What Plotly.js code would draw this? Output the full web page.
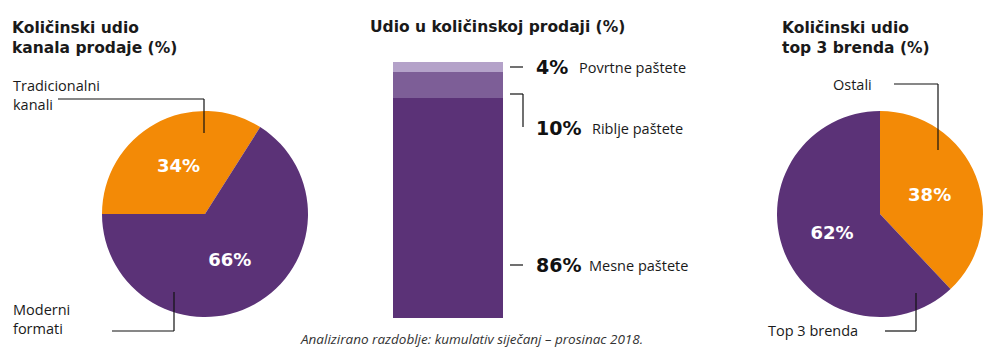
<!DOCTYPE html>
<html><head><meta charset="utf-8">
<script src="https://cdn.plot.ly/plotly-3.0.1.min.js"></script>
<style>html,body{margin:0;padding:0;background:#fff}#chart{width:993px;height:364px}</style>
</head><body><div id="chart"></div>
<script>
// ---- data ----
const channelLabels = ["Tradicionalni kanali", "Moderni formati"];
const channelValues = [34, 66];
const segmentLabels = ["Mesne paštete", "Riblje paštete", "Povrtne paštete"];
const segmentValues = [86, 10, 4];
const brandLabels = ["Ostali", "Top 3 brenda"];
const brandValues = [38, 62];

const W = 993, H = 364;
const px = x => x / W, py = y => 1 - y / H;
const ORANGE = "#f38a06", PURPLE = "#5b3277";
const segColors = ["#5b3277", "#7d5e97", "#b4a2c9"];
const FONT = "'Open Sans', 'DejaVu Sans', sans-serif";
const BOLDFONT = "'DejaVu Sans', sans-serif";

const data = [
  {type: "pie", labels: channelLabels, values: channelValues, sort: false,
   direction: "clockwise", rotation: 270,
   marker: {colors: [ORANGE, PURPLE]},
   domain: {x: [px(102), px(308)], y: [py(317), py(111)]},
   texttemplate: "%{value}%", textposition: "inside", insidetextorientation: "horizontal",
   textfont: {color: "#fff", size: 18, family: BOLDFONT, weight: 700},
   hoverinfo: "skip", showlegend: false},
  {type: "pie", labels: brandLabels, values: brandValues, sort: false,
   direction: "clockwise", rotation: 0,
   marker: {colors: [ORANGE, PURPLE]},
   domain: {x: [px(777), px(983)], y: [py(317), py(111)]},
   texttemplate: "%{value}%", textposition: "inside", insidetextorientation: "horizontal",
   textfont: {color: "#fff", size: 18, family: BOLDFONT, weight: 700},
   hoverinfo: "skip", showlegend: false}
];
segmentLabels.forEach((lab, i) => {
  data.push({type: "bar", x: [0], y: [segmentValues[i]], name: lab,
    marker: {color: segColors[i], line: {width: 0}}, width: 1,
    xaxis: "x", yaxis: "y", hoverinfo: "skip", showlegend: false});
});

// label positions for stacked segments (pixel y of label)
const segLabelY = [265, 128, 67];
const annotations = [];
const shapes = [];
function txt(x, y, text, opts = {}) {
  annotations.push(Object.assign({xref: "paper", yref: "paper", x: px(x), y: py(y),
    text: text, showarrow: false, xanchor: "left", yanchor: "middle", align: "left"}, opts));
}
function line(pts) {
  for (let i = 0; i < pts.length - 1; i++) {
    shapes.push({type: "line", xref: "paper", yref: "paper",
      x0: px(pts[i][0]), y0: py(pts[i][1]), x1: px(pts[i+1][0]), y1: py(pts[i+1][1]),
      line: {color: "#111", width: 1.2}});
  }
}
const titleFont = {family: BOLDFONT, size: 15.5, color: "#1a1a1a", weight: 700};
txt(10, 38, "Količinski udio<br>kanala prodaje (%)", {font: titleFont});
txt(497, 27, "Udio u količinskoj prodaji (%)", {font: titleFont, xanchor: "center"});
txt(780, 38, "Količinski udio<br>top 3 brenda (%)", {font: titleFont});

const lblFont = {family: FONT, size: 14.5, color: "#1a1a1a"};
txt(11, 95, "Tradicionalni<br>kanali", {font: lblFont});
line([[58, 99], [204, 99], [204, 133]]);
txt(11, 319, "Moderni<br>formati", {font: lblFont});
line([[112, 331], [174, 331], [174, 292]]);
txt(874, 84, "Ostali", {font: lblFont, xanchor: "right"});
line([[894, 84], [938, 84], [938, 150]]);
txt(766, 330, "Top 3 brenda", {font: lblFont});
line([[885, 331], [916, 331], [916, 293]]);

// bar labels
const pctFont = {family: BOLDFONT, size: 19, color: "#111", weight: 700};
const nameX = [587, 590, 577];
for (let i = 0; i < segmentLabels.length; i++) {
  txt(534, segLabelY[i], segmentValues[i] + "%", {font: pctFont});
  txt(nameX[i], segLabelY[i], segmentLabels[i], {font: lblFont});
}
line([[510, 67], [523, 67]]);
line([[510, 94], [523, 94], [523, 127]]);
line([[510, 265], [523, 265]]);

txt(471, 339, "Analizirano razdoblje: kumulativ siječanj – prosinac 2018.",
  {font: {family: FONT, size: 13.5, color: "#333", style: "italic"}, xanchor: "center"});

const layout = {
  width: W, height: H, margin: {l: 0, r: 0, t: 0, b: 0},
  paper_bgcolor: "#fff", plot_bgcolor: "#fff", barmode: "stack", bargap: 0,
  xaxis: {domain: [px(393), px(503)], range: [-0.5, 0.5], visible: false, fixedrange: true},
  yaxis: {domain: [py(318), py(62)], range: [0, 100], visible: false, fixedrange: true},
  annotations: annotations, shapes: shapes, showlegend: false
};
Plotly.newPlot("chart", data, layout, {displayModeBar: false, staticPlot: true});
</script></body></html>
